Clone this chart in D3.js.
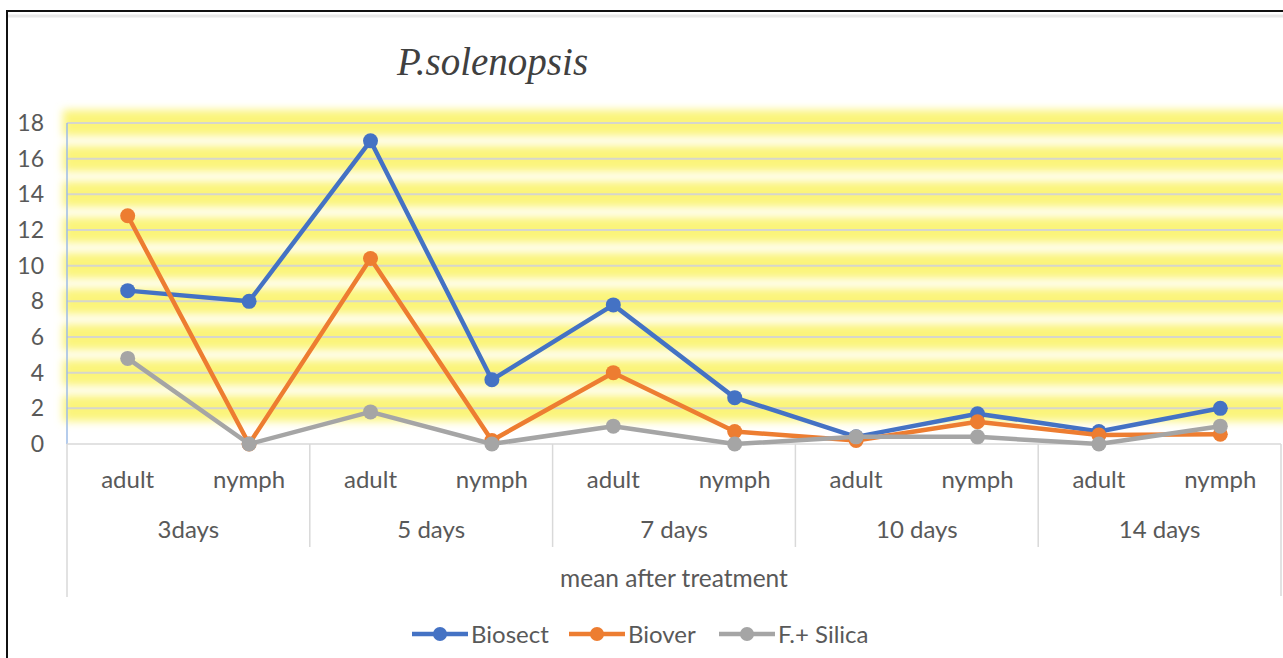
<!DOCTYPE html>
<html>
<head>
<meta charset="utf-8">
<script src="https://cdn.jsdelivr.net/npm/d3@7"></script>
<style>
  body { margin: 0; background: #fff; }
  svg { display: block; }
  .lbl { font-family: Lato, "Open Sans", sans-serif; fill: #595959; }
</style>
</head>
<body>
<div id="chart"></div>
<script>
// chart data
const groups = ["3days", "5 days", "7 days", "10 days", "14 days"];
const stages = ["adult", "nymph"];
const seriesNames = ["Biosect", "Biover", "F.+ Silica"];
const seriesColors = ["#4472C4", "#ED7D31", "#A5A5A5"];
const biosect = [8.6, 8.0, 17.0, 3.6, 7.8, 2.6, 0.4, 1.7, 0.7, 2.0];
const biover = [12.8, 0, 10.4, 0.2, 4.0, 0.7, 0.2, 1.25, 0.5, 0.55];
const silica = [4.8, 0, 1.8, 0, 1.0, 0, 0.4, 0.4, 0, 1.0];
const yTicks = [0, 2, 4, 6, 8, 10, 12, 14, 16, 18];

const width = 1283;
const height = 658;
const plotLeft = 67;
const plotRight = 1281;
const plotTop = 123;
const plotBottom = 444;

// categories: one per group/stage pair
const cats = [];
groups.forEach((g) => stages.forEach((s) => cats.push(g + "|" + s)));

const series = [biosect, biover, silica].map((vals, i) => ({
  name: seriesNames[i],
  color: seriesColors[i],
  values: vals.map((v, j) => ({ cat: cats[j], v: v })),
}));

const svg = d3.select("#chart").append("svg")
  .attr("width", width)
  .attr("height", height);

// scales
const xScale = d3.scaleBand().domain(cats).range([plotLeft, plotRight]);
const gScale = d3.scaleBand().domain(groups).range([plotLeft, plotRight]);
const yScale = d3.scaleLinear().domain([0, 18]).range([plotBottom, plotTop]);
const cx = (c) => xScale(c) + xScale.bandwidth() / 2;

// frame
svg.append("rect")
  .attr("x", 7).attr("y", 11)
  .attr("width", width + 20).attr("height", height + 20)
  .attr("fill", "none").attr("stroke", "#111").attr("stroke-width", 2);
svg.append("line")
  .attr("x1", 8).attr("x2", width).attr("y1", 16).attr("y2", 16)
  .attr("stroke", "#e8e8e8").attr("stroke-width", 3);

// yellow glow bands behind the gridlines
const defs = svg.append("defs");
defs.append("filter").attr("id", "glow")
  .attr("x", "-5%").attr("y", "-100%").attr("width", "110%").attr("height", "300%")
  .append("feGaussianBlur").attr("stdDeviation", "4 4.5");

svg.append("g")
  .attr("filter", "url(#glow)")
  .selectAll("rect")
  .data(yTicks.filter((d) => d > 0))
  .join("rect")
  .attr("x", plotLeft - 4)
  .attr("width", width - plotLeft + 20)
  .attr("y", (d) => yScale(d) - 13)
  .attr("height", 26)
  .attr("fill", "#fbf47a");

// gridlines
svg.append("g")
  .selectAll("line")
  .data(yTicks.filter((d) => d > 0))
  .join("line")
  .attr("x1", plotLeft).attr("x2", plotRight)
  .attr("y1", (d) => yScale(d)).attr("y2", (d) => yScale(d))
  .attr("stroke", "#d6d6cc").attr("stroke-width", 2);

// y axis labels
const yAxis = d3.axisLeft(yScale).tickValues(yTicks).tickSize(0).tickPadding(0);
const yg = svg.append("g")
  .attr("transform", `translate(44,0)`)
  .call(yAxis);
yg.select(".domain").remove();
yg.selectAll("text")
  .attr("class", "lbl")
  .style("font-size", "23px")
  .attr("fill", "#595959");

// left value axis line
svg.append("line")
  .attr("x1", plotLeft).attr("x2", plotLeft)
  .attr("y1", plotTop).attr("y2", plotBottom)
  .attr("stroke", "#9dbbe6").attr("stroke-width", 1.5);

// category axis: baseline and dividers
const axisCol = "#d9d9d9";
svg.append("line")
  .attr("x1", plotLeft).attr("x2", plotRight)
  .attr("y1", plotBottom).attr("y2", plotBottom)
  .attr("stroke", axisCol).attr("stroke-width", 1.5);
svg.append("line")
  .attr("x1", plotLeft).attr("x2", plotLeft)
  .attr("y1", plotBottom).attr("y2", 597)
  .attr("stroke", axisCol).attr("stroke-width", 1.5);
svg.append("line")
  .attr("x1", plotRight).attr("x2", plotRight)
  .attr("y1", plotBottom).attr("y2", 596)
  .attr("stroke", axisCol).attr("stroke-width", 1.5);
svg.append("g")
  .selectAll("line")
  .data(groups.slice(1))
  .join("line")
  .attr("x1", (d) => gScale(d)).attr("x2", (d) => gScale(d))
  .attr("y1", plotBottom).attr("y2", 547)
  .attr("stroke", axisCol).attr("stroke-width", 1.5);

// stage labels
svg.append("g")
  .selectAll("text")
  .data(cats)
  .join("text")
  .attr("class", "lbl")
  .attr("x", (d) => cx(d))
  .attr("y", 488)
  .attr("text-anchor", "middle")
  .style("font-size", "24px")
  .text((d) => d.split("|")[1]);

// group labels
svg.append("g")
  .selectAll("text")
  .data(groups)
  .join("text")
  .attr("class", "lbl")
  .attr("x", (d) => gScale(d) + gScale.bandwidth() / 2)
  .attr("y", 538)
  .attr("text-anchor", "middle")
  .style("font-size", "24px")
  .text((d) => d);

svg.append("text")
  .attr("class", "lbl")
  .attr("x", (plotLeft + plotRight) / 2)
  .attr("y", 587)
  .attr("text-anchor", "middle")
  .style("font-size", "24.5px")
  .text("mean after treatment");

// title
svg.append("text")
  .attr("x", 397)
  .attr("y", 75)
  .attr("font-family", "'Liberation Serif', 'DejaVu Serif', serif")
  .attr("font-style", "italic")
  .attr("font-size", "39px")
  .attr("fill", "#404040")
  .text("P.solenopsis");

// lines and markers
const line = d3.line()
  .x((d) => cx(d.cat))
  .y((d) => yScale(d.v));

const sg = svg.append("g")
  .selectAll("g")
  .data(series)
  .join("g");

sg.append("path")
  .attr("d", (d) => line(d.values))
  .attr("fill", "none")
  .attr("stroke", (d) => d.color)
  .attr("stroke-width", 4.5)
  .attr("stroke-linejoin", "round");

sg.selectAll("circle")
  .data((d) => d.values.map((p) => ({ ...p, color: d.color })))
  .join("circle")
  .attr("cx", (d) => cx(d.cat))
  .attr("cy", (d) => yScale(d.v))
  .attr("r", 7.5)
  .attr("fill", (d) => d.color);

// legend
const legendX = [412, 569, 719];
const lg = svg.append("g")
  .selectAll("g")
  .data(series)
  .join("g")
  .attr("transform", (d, i) => `translate(${legendX[i]},634)`);

lg.append("line")
  .attr("x1", 0).attr("x2", 56)
  .attr("stroke", (d) => d.color)
  .attr("stroke-width", 4.5);
lg.append("circle")
  .attr("cx", 28).attr("r", 7)
  .attr("fill", (d) => d.color);
lg.append("text")
  .attr("class", "lbl")
  .attr("x", 59)
  .attr("y", 8.5)
  .style("font-size", "24px")
  .text((d) => d.name);
</script>
</body>
</html>
